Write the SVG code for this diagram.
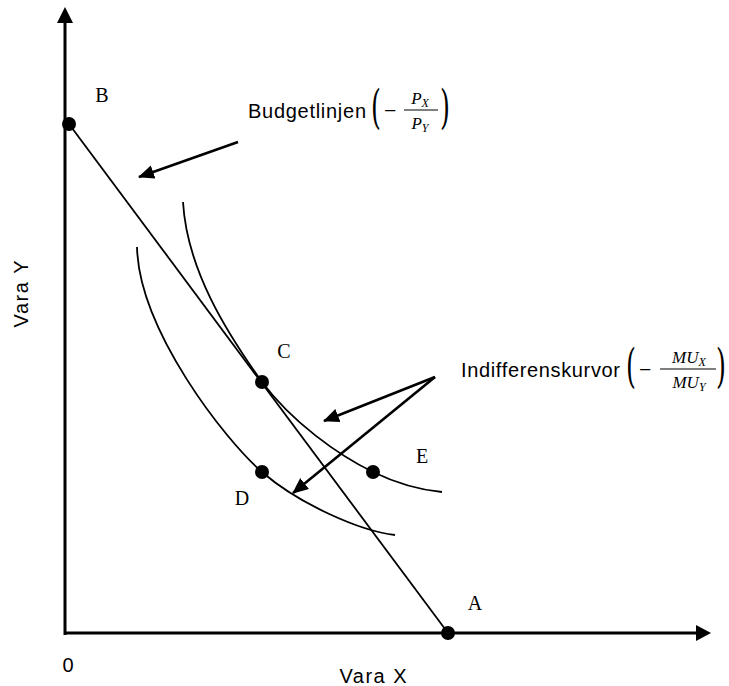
<svg xmlns="http://www.w3.org/2000/svg" width="729" height="686" viewBox="0 0 729 686">
<style>
.ax{stroke:#000;stroke-width:3;fill:none}
.ln{stroke:#000;stroke-width:1.8;fill:none}
.ar{stroke:#000;stroke-width:2.6;fill:none}
.lbl{font-family:"Liberation Sans",Arial,sans-serif;font-size:20px;fill:#000}
.pt{font-family:"Liberation Serif","Times New Roman",serif;font-size:20px;fill:#000}
.m{font-family:"Liberation Serif","Times New Roman",serif;font-style:italic;font-size:17px;fill:#000}
.s{font-size:12px}
.par{font-family:"DejaVu Serif","Liberation Serif",serif;font-size:34px;fill:#000}
.mn{font-family:"Liberation Serif","Times New Roman",serif;font-size:22px;fill:#000}
.fb{stroke:#000;stroke-width:1.2}
</style>
<defs>
<marker id="ah" viewBox="0 0 16 14" refX="15" refY="7" markerWidth="16" markerHeight="14" markerUnits="userSpaceOnUse" orient="auto">
<path d="M0,0 L16,7 L0,14 Z" fill="#000"/>
</marker>
</defs>
<g id="axes">
<line class="ax" x1="65" y1="635" x2="65" y2="20"/>
<path d="M65,7 L57,23 L73,23 Z" fill="#000"/>
<line class="ax" x1="64" y1="633" x2="698" y2="633"/>
<path d="M711,633 L696,625 L696,641 Z" fill="#000"/>
<text class="lbl" x="68" y="672" text-anchor="middle">0</text>
<text class="lbl" x="373" y="683" text-anchor="middle" textLength="67">Vara X</text>
<text class="lbl" transform="translate(28,294) rotate(-90)" text-anchor="middle" textLength="67">Vara Y</text>
</g>
<g id="budget-line">
<line class="ln" x1="69" y1="124" x2="448" y2="633"/>
</g>
<g id="indifference-curves">
<path class="ln" d="M183,202 C187,270 227,333 262,382 C292,422 338,455 373,472 C400,485 420,490 442,492"/>
<path class="ln" d="M137,247 C139,330 225,440 262,472 C299,504 360,531 395,535"/>
</g>
<g id="node-B">
<circle cx="69" cy="124" r="7"/>
<text class="pt" x="102" y="102" text-anchor="middle">B</text>
</g>
<g id="node-A">
<circle cx="448" cy="633" r="7"/>
<text class="pt" x="475" y="610" text-anchor="middle">A</text>
</g>
<g id="node-C">
<circle cx="262" cy="382" r="7"/>
<text class="pt" x="284" y="358" text-anchor="middle">C</text>
</g>
<g id="node-D">
<circle cx="262" cy="472" r="7"/>
<text class="pt" x="242" y="505" text-anchor="middle">D</text>
</g>
<g id="node-E">
<circle cx="373" cy="472" r="7"/>
<text class="pt" x="422" y="463" text-anchor="middle">E</text>
</g>
<g id="connectors">
<line class="ar" x1="238" y1="142" x2="139" y2="177" marker-end="url(#ah)"/>
<line class="ar" x1="435" y1="377" x2="324" y2="421" marker-end="url(#ah)"/>
<line class="ar" x1="435" y1="377" x2="293" y2="493" marker-end="url(#ah)"/>
</g>
<g id="label-budget">
<text class="lbl" x="248" y="118" textLength="118">Budgetlinjen</text>
<text class="par" transform="translate(371,123) scale(0.75,1.35)">(</text>
<text class="mn" x="384" y="118">−</text>
<text class="m" x="420" y="104" text-anchor="middle">P<tspan class="s" dy="3">X</tspan></text>
<line class="fb" x1="404" y1="110" x2="438" y2="110"/>
<text class="m" x="420" y="129" text-anchor="middle">P<tspan class="s" dy="3">Y</tspan></text>
<text class="par" transform="translate(440,123) scale(0.75,1.35)">)</text>
</g>
<g id="label-indiff">
<text class="lbl" x="461" y="377" textLength="159">Indifferenskurvor</text>
<text class="par" transform="translate(626,382) scale(0.75,1.35)">(</text>
<text class="mn" x="639" y="377">−</text>
<text class="m" x="689" y="363" text-anchor="middle">MU<tspan class="s" dy="3">X</tspan></text>
<line class="fb" x1="660" y1="369" x2="716" y2="369"/>
<text class="m" x="689" y="388" text-anchor="middle">MU<tspan class="s" dy="3">Y</tspan></text>
<text class="par" transform="translate(716,382) scale(0.75,1.35)">)</text>
</g>
</svg>
